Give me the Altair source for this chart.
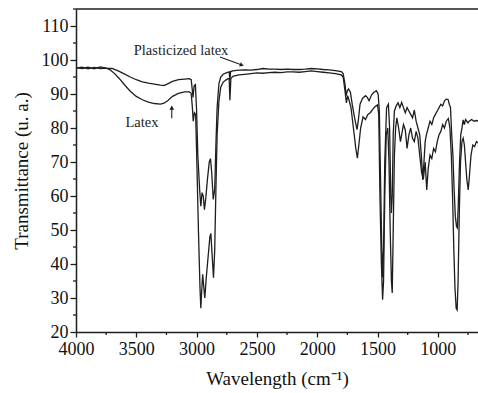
import altair as alt
import pandas as pd

# ---- data (wavenumber cm-1, transmittance) ----
wn_plast = [4000, 3950, 3900, 3850, 3800, 3750, 3700, 3650, 3600, 3550, 3500, 3450, 3400,
            3350, 3300, 3270, 3240, 3200, 3150, 3100, 3060, 3045, 3035, 3030, 3020, 3010,
            3000, 2990, 2975, 2965, 2955, 2945, 2935, 2925, 2910, 2895, 2885, 2875, 2862,
            2850, 2840, 2830, 2815, 2800, 2780, 2750, 2730, 2724, 2718, 2700, 2650, 2600,
            2550, 2500, 2450, 2400, 2350, 2300, 2250, 2200, 2150, 2100, 2050, 2000, 1950,
            1900, 1850, 1800, 1785, 1770, 1760, 1750, 1740, 1725, 1710, 1690, 1670, 1660,
            1645, 1625, 1600, 1585, 1570, 1550, 1530, 1510, 1495, 1485, 1475, 1465, 1458,
            1450, 1440, 1425, 1410, 1400, 1390, 1385, 1378, 1370, 1360, 1345, 1330, 1315,
            1300, 1285, 1270, 1255, 1240, 1225, 1210, 1195, 1180, 1165, 1150, 1135, 1125,
            1115, 1105, 1095, 1080, 1065, 1050, 1035, 1020, 1005, 990, 975, 960, 945, 930,
            915, 905, 895, 885, 875, 865, 855, 845, 838, 830, 820, 810, 800, 790, 780, 770,
            760, 750, 740, 720, 700, 680, 660]
tr_plast = [97.8, 97.5, 97.9, 97.4, 98.0, 97.6, 97.5, 96.8, 95.9, 95.0, 94.2, 93.6, 93.2,
            92.9, 92.6, 92.5, 93.0, 93.7, 94.2, 94.4, 94.5, 94.2, 91.0, 89.0, 92.5, 92.8,
            85.0, 72.0, 62.0, 57.0, 61.0, 60.0, 56.0, 59.0, 65.0, 70.0, 71.0, 67.0, 59.0,
            62.0, 75.0, 86.0, 93.0, 95.0, 95.8, 96.3, 96.5, 94.0, 96.6, 96.8, 97.0, 97.1,
            97.0, 97.2, 97.5, 97.3, 97.3, 97.2, 97.3, 97.2, 97.2, 97.3, 97.5, 97.4, 97.2,
            97.1, 96.9, 96.6, 96.0, 93.0, 89.5, 91.0, 91.5, 90.5, 87.0, 83.0, 79.5, 82.0,
            87.0, 88.7, 89.5, 89.0, 88.0, 89.7, 90.5, 91.0, 90.0, 85.0, 65.0, 45.0, 36.0,
            45.0, 70.0, 86.0, 87.0, 80.0, 60.0, 55.0, 60.0, 78.0, 85.0, 86.5, 87.4, 86.0,
            87.5, 86.0, 84.5, 86.0, 85.0, 84.0, 83.0, 85.3, 82.0, 80.0, 78.0, 71.0, 64.7,
            70.0, 76.0, 78.0, 80.0, 82.0, 81.0, 83.0, 84.0, 85.0, 86.0, 87.0, 86.5, 88.0,
            88.5, 88.4, 87.0, 86.0, 78.0, 72.0, 62.0, 54.0, 51.0, 50.6, 58.0, 70.0, 78.0,
            80.0, 82.4, 81.0, 82.5, 82.0, 81.5, 82.0, 82.5, 82.0, 82.2, 82.0]

wn_latex = [4000, 3950, 3900, 3850, 3800, 3750, 3720, 3680, 3640, 3600, 3550, 3500, 3450,
            3400, 3350, 3300, 3270, 3240, 3200, 3150, 3100, 3060, 3045, 3035, 3028, 3018,
            3008, 2998, 2985, 2972, 2965, 2958, 2950, 2940, 2932, 2920, 2905, 2890, 2882,
            2872, 2860, 2850, 2840, 2830, 2815, 2800, 2780, 2750, 2730, 2724, 2716, 2700,
            2650, 2600, 2550, 2500, 2450, 2400, 2350, 2300, 2250, 2200, 2150, 2100, 2050,
            2000, 1950, 1900, 1850, 1800, 1785, 1770, 1758, 1748, 1735, 1720, 1700, 1680,
            1667, 1655, 1640, 1620, 1600, 1580, 1560, 1540, 1520, 1500, 1490, 1480, 1468,
            1458, 1450, 1440, 1428, 1415, 1405, 1395, 1385, 1378, 1370, 1360, 1350, 1340,
            1325, 1310, 1300, 1285, 1270, 1255, 1240, 1225, 1210, 1195, 1180, 1165, 1150,
            1135, 1120, 1105, 1092, 1080, 1065, 1050, 1035, 1020, 1005, 990, 975, 960, 945,
            930, 913, 900, 888, 878, 868, 858, 848, 840, 832, 822, 812, 800, 790, 780, 770,
            760, 748, 738, 725, 710, 695, 680, 660]
tr_latex = [97.6, 97.9, 97.4, 97.8, 97.5, 97.6, 97.2, 96.0, 94.5, 92.8, 90.8, 89.3, 88.3,
            87.6, 87.2, 87.0, 87.3, 88.0, 89.3, 90.2, 90.6, 90.6, 90.2, 86.0, 82.0, 84.5,
            84.0, 70.0, 50.0, 33.0, 27.0, 32.0, 37.0, 33.0, 30.0, 36.0, 42.0, 48.0, 49.0,
            43.0, 36.0, 44.0, 62.0, 78.0, 88.0, 92.0, 93.5, 94.3, 94.6, 88.2, 94.5, 95.2,
            95.6, 95.8, 96.0, 96.2, 96.1, 96.3, 96.4, 96.3, 96.5, 96.5, 96.4, 96.6, 96.8,
            96.6, 96.4, 96.2, 96.0, 95.6, 95.0, 91.0, 87.4, 89.5, 88.0, 86.0, 80.0, 74.0,
            71.1, 75.0, 80.0, 83.3, 82.5, 84.0, 84.5, 85.5, 86.3, 86.8, 84.0, 60.0, 40.0,
            29.5, 35.0, 60.0, 78.0, 80.0, 70.0, 50.0, 35.0, 31.5, 50.0, 72.0, 80.0, 83.0,
            80.0, 76.0, 78.0, 81.0, 79.5, 74.0, 78.0, 80.0, 77.0, 76.0, 79.0, 77.0, 72.0,
            67.0, 65.0, 70.0, 61.8, 68.0, 72.0, 71.0, 74.0, 73.0, 76.0, 78.0, 79.0, 81.0,
            80.0, 82.0, 82.8, 80.0, 72.0, 60.0, 45.0, 33.0, 27.0, 26.5, 35.0, 55.0, 70.0,
            76.0, 77.0, 75.0, 70.0, 65.0, 61.8, 66.0, 72.0, 75.0, 74.5, 76.0, 75.5]

# axis ticks (major with labels, minor without)
x_major = [4000, 3500, 3000, 2500, 2000, 1500, 1000]
x_minor = [3750, 3250, 2750, 2250, 1750, 1250, 750]
y_major = [20, 30, 40, 50, 60, 70, 80, 90, 100, 110]
y_minor = [25, 35, 45, 55, 65, 75, 85, 95, 105, 115]

# annotations
ann_text = ["Plasticized latex", "Latex"]
ann_wn = [3129, 3453]
ann_tr = [102.7, 81.6]
arrow_wn = [2806, 3206]
arrow_tr = [100.9, 82.9]
arrow_wn2 = [2625, 3206]
arrow_tr2 = [98.5, 86.0]
arrow_angle = [111, 0]

lines_df = pd.concat([
    pd.DataFrame({"wn": wn_plast, "tr": tr_plast, "series": "Plasticized latex"}),
    pd.DataFrame({"wn": wn_latex, "tr": tr_latex, "series": "Latex"}),
])
ann_df = pd.DataFrame({"text": ann_text, "wn": ann_wn, "tr": ann_tr})
arrow_df = pd.DataFrame({"wn": arrow_wn, "tr": arrow_tr, "wn2": arrow_wn2,
                         "tr2": arrow_tr2, "angle": arrow_angle})
xminor_df = pd.DataFrame({"wn": x_minor})
yminor_df = pd.DataFrame({"tr": y_minor})

W, H = 402, 323
xs = alt.Scale(domain=[4000, 667], nice=False, zero=False)
ys = alt.Scale(domain=[20, 115], nice=False, zero=False)
FONT = "Liberation Serif"
INK = "#1e1e1e"

x_axis = alt.Axis(
    values=x_major, tickSize=5,
    title="Wavelength (cm\u207b\u00b9)",
    format="d", labelPadding=3, titlePadding=11,
    labelOverlap=False, labelFlush=False, labelBound=False,
)
y_axis = alt.Axis(
    values=y_major, tickSize=6,
    title="Transmittance (u. a.)",
    format="d", labelPadding=2, titlePadding=10,
    labelOverlap=False, labelFlush=False, labelBound=False,
)


def X(field):
    return alt.X(field, type="quantitative", scale=xs, axis=x_axis)


def Y(field):
    return alt.Y(field, type="quantitative", scale=ys, axis=y_axis)


lines = alt.Chart(lines_df).mark_line(color=INK, strokeWidth=1.3, clip=True).encode(
    x=X("wn"), y=Y("tr"), detail="series:N",
)

top_border = alt.Chart(pd.DataFrame({"k": [0]})).mark_rule(color=INK, strokeWidth=1.5).encode(
    x=alt.value(0), x2=alt.value(W), y=alt.value(0)
)

x_minor_ticks = alt.Chart(xminor_df).mark_rule(color=INK, strokeWidth=1.3).encode(
    x=X("wn"), y=alt.value(H), y2=alt.value(H + 3)
)
y_minor_ticks = alt.Chart(yminor_df).mark_rule(color=INK, strokeWidth=1.3).encode(
    y=Y("tr"), x=alt.value(0), x2=alt.value(-3)
)

labels = alt.Chart(ann_df).mark_text(font=FONT, fontSize=14.5, color=INK).encode(
    x=X("wn"), y=Y("tr"), text="text:N"
)

arrow_lines = alt.Chart(arrow_df).mark_rule(color=INK, strokeWidth=1.1).encode(
    x=X("wn"), y=Y("tr"), x2="wn2:Q", y2="tr2:Q",
)
arrow_heads = alt.Chart(arrow_df).mark_point(shape="triangle-up", filled=True, size=22,
                                             color=INK, opacity=1).encode(
    x=X("wn2"), y=Y("tr2"), angle=alt.Angle("angle:Q", scale=None)
)

chart = alt.layer(lines, top_border, x_minor_ticks, y_minor_ticks, labels,
                  arrow_lines, arrow_heads).properties(
    width=W, height=H,
    autosize=alt.AutoSizeParams(type="none"),
    padding={"left": 76, "top": 9, "right": 0, "bottom": 61},
).configure_view(stroke=None).configure_axis(
    grid=False, labelOverlap=False,
    labelFont=FONT, labelFontSize=18, labelColor="#111",
    titleFont=FONT, titleFontSize=19, titleFontWeight="normal", titleColor="#111",
    domainColor=INK, domainWidth=1.5, tickColor=INK, tickWidth=1.3,
)

chart.save("out.html", embed_options={"renderer": "svg", "actions": False})
